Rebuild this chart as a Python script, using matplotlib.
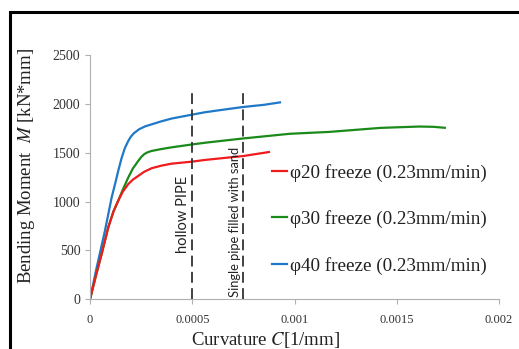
import matplotlib
matplotlib.use("Agg")
from matplotlib import pyplot as plt
from matplotlib.patches import Rectangle

plt.rcParams['font.family'] = ['Liberation Serif', 'DejaVu Serif']
plt.rcParams['mathtext.fontset'] = 'stix'

# curvature [1/mm] / bending moment [kN*mm]
x20 = [0, 0.000030, 0.0000572, 0.0000895, 0.000115, 0.000138, 0.000160, 0.000187, 0.000210,
       0.000236, 0.000265, 0.000301, 0.000350, 0.000399, 0.0005, 0.000562, 0.00065, 0.000749, 0.000875]
y20 = [0, 250, 467, 738, 900, 1009, 1100, 1179, 1225,
       1263, 1305, 1341, 1368, 1388, 1409, 1426, 1445, 1466, 1507]

x30 = [0, 0.000030, 0.0000572, 0.0000895, 0.000115, 0.000138, 0.000160, 0.000187, 0.000210,
       0.000236, 0.00025, 0.000265, 0.00028, 0.000301, 0.000350, 0.000399, 0.0005, 0.000562,
       0.000749, 0.000978, 0.00117, 0.00142, 0.00161, 0.00168, 0.001735]
y30 = [0, 250, 467, 738, 900, 1009, 1120, 1246, 1340,
       1416, 1455, 1485, 1503, 1518, 1538, 1555, 1585, 1602,
       1646, 1694, 1713, 1754, 1768, 1765, 1755]

x40 = [0, 0.000030, 0.0000733, 0.000106, 0.000125, 0.000138, 0.000155, 0.000170, 0.000187,
       0.000200, 0.000215, 0.000240, 0.000270, 0.000301, 0.00035, 0.0004, 0.0005, 0.000562,
       0.00065, 0.000749, 0.00085, 0.000929]
y40 = [0, 300, 704, 1043, 1200, 1314, 1449, 1545, 1620,
       1665, 1700, 1740, 1770, 1790, 1822, 1850, 1890, 1914,
       1940, 1968, 1990, 2015]

labels = ['φ20 freeze (0.23mm/min)', 'φ30 freeze (0.23mm/min)', 'φ40 freeze (0.23mm/min)']
colors = ['#ee1c1c', '#1a8a1a', '#1f78c8']

ref_x = [0.0005, 0.00075]
ref_top = 2150
ref_text = ['hollow PIPE', 'Single pipe filled with sand']
ref_text_y = [470, 20]
ref_size = [10.5, 9.3]

fig = plt.figure(figsize=(5.19, 3.49), dpi=100)
ax = fig.add_axes([90 / 519, 49.7 / 349, 409 / 519, 244.3 / 349])

# draw green and blue first so red stays on top where they overlap
ax.plot(x40, y40, color=colors[2], lw=1.6, label=labels[2])
ax.plot(x30, y30, color=colors[1], lw=1.6, label=labels[1])
ax.plot(x20, y20, color=colors[0], lw=1.6, label=labels[0])

for xv, txt, ty, fs in zip(ref_x, ref_text, ref_text_y, ref_size):
    ax.plot([xv, xv], [0, ref_top], color='#333333', lw=1.3, dashes=(6, 3))
    ax.text(xv - 0.000012, ty, txt, rotation=90,
            ha='right', va='bottom', fontsize=fs, family=['Lato', 'DejaVu Sans'], color='#222222')

ax.set_xlim(0, 0.002)
ax.set_ylim(0, 2500)
ax.set_xticks([0, 0.0005, 0.001, 0.0015, 0.002])
ax.set_xticklabels(['0', '0.0005', '0.001', '0.0015', '0.002'], fontsize=9)
ax.set_yticks([0, 500, 1000, 1500, 2000, 2500])
ax.set_yticklabels(['0', '500', '1000', '1500', '2000', '2500'], fontsize=10)
for s in ['top', 'right']:
    ax.spines[s].set_visible(False)
for s in ['left', 'bottom']:
    ax.spines[s].set_color('#b0b0b0')
ax.tick_params(colors='#b0b0b0', labelcolor='#333333', length=3.5, width=0.8)
ax.tick_params(axis='x', pad=7)

ax.set_xlabel(r'Curvature $C$[1/mm]', fontsize=13.5, color='#222222')
ax.set_ylabel(r'Bending Moment  $M$ [kN*mm]', fontsize=13.5, color='#222222')
ax.xaxis.set_label_coords(0.43, -0.125)
ax.yaxis.set_label_coords(-0.13, 0.545)

h, l = ax.get_legend_handles_labels()
leg = ax.legend(h[::-1], l[::-1], loc='upper left', bbox_to_anchor=(272 / 519, 1 - 164 / 349),
                bbox_transform=fig.transFigure, frameon=False, fontsize=13.8,
                handlelength=0.8, handletextpad=0.15, labelspacing=1.48,
                borderpad=0, borderaxespad=0)
for t in leg.get_texts():
    t.set_color('#222222')

# outer frame of the original picture, cut off at right and bottom
fig.patches.append(Rectangle((10 / 519, -0.2), 1.2, 1 - 12 / 349 + 0.2, transform=fig.transFigure,
                             fill=False, ec='black', lw=2.2))

fig.savefig('out.png', dpi=100)
